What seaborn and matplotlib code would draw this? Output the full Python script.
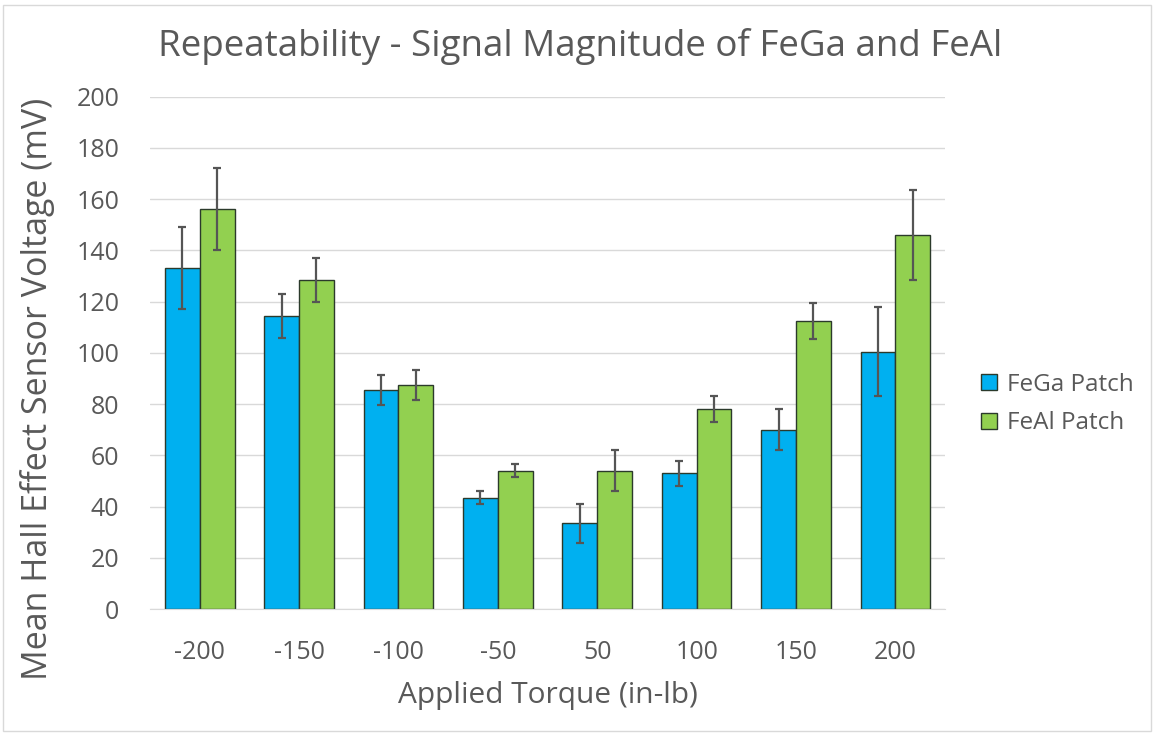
import pandas as pd
import seaborn as sns
import matplotlib.pyplot as plt
from matplotlib.ticker import MultipleLocator

torque = ["-200", "-150", "-100", "-50", "50", "100", "150", "200"]
fega_mean = [133, 114.5, 85.5, 43.5, 33.5, 53, 70, 100.5]
fega_err = [16, 8.5, 6, 2.5, 7.5, 5, 8, 17.5]
feal_mean = [156, 128.5, 87.5, 54, 54, 78, 112.5, 146]
feal_err = [16, 8.5, 6, 2.5, 8, 5, 7, 17.5]

series = ["FeGa Patch", "FeAl Patch"]
colors = ["#00B0F0", "#92D050"]

df = pd.DataFrame({
    "Torque": torque * 2,
    "Voltage": fega_mean + feal_mean,
    "Patch": [series[0]] * len(torque) + [series[1]] * len(torque),
})

sns.set_style("white")
plt.rcParams['font.family'] = ['Open Sans', 'DejaVu Sans']
text_color = "#595959"

fig = plt.figure(figsize=(11.54, 7.33), dpi=100)
ax = fig.add_axes([0.130, 0.169, 0.689, 0.699])

sns.barplot(data=df, x="Torque", y="Voltage", hue="Patch", order=torque,
            hue_order=series, palette=colors, width=0.7, ax=ax,
            edgecolor="#2b3a2b", linewidth=1.0, saturation=1)

# error bars drawn from bar centers
for patch_idx, (means, errs) in enumerate([(fega_mean, fega_err), (feal_mean, feal_err)]):
    bars = ax.containers[patch_idx]
    xs = [b.get_x() + b.get_width() / 2 for b in bars]
    ax.errorbar(xs, means, yerr=errs, fmt="none", ecolor="#555555",
                elinewidth=1.6, capsize=3, capthick=1.6, zorder=5)

ax.set_ylim(0, 200)
ax.set_xlim(-0.5, len(torque) - 0.5)
ax.yaxis.set_major_locator(MultipleLocator(20))
ax.grid(axis="y", color="#d9d9d9", linewidth=1)
ax.set_axisbelow(True)
for s in ["top", "right", "left"]:
    ax.spines[s].set_visible(False)
ax.spines["bottom"].set_color("#d9d9d9")
ax.tick_params(axis="both", length=0, labelsize=18, colors=text_color)
ax.tick_params(axis="x", pad=22)
ax.tick_params(axis="y", pad=22)

ax.set_xlabel("Applied Torque (in-lb)", fontsize=21.5, color=text_color, labelpad=12)
ax.set_ylabel("Mean Hall Effect Sensor Voltage (mV)", fontsize=24.5, color=text_color)
ax.yaxis.set_label_coords(-0.12, 0.43)
fig.suptitle("Repeatability - Signal Magnitude of FeGa and FeAl", fontsize=26.5,
             color=text_color, x=0.503, y=0.962)

ax.legend(loc="center left", bbox_to_anchor=(1.018, 0.40), frameon=False,
          fontsize=17.5, labelcolor=text_color, handlelength=0.65, handleheight=0.65,
          handletextpad=0.4, labelspacing=0.6)

fig.patches.append(plt.Rectangle((0.003, 0.003), 0.994, 0.99, transform=fig.transFigure,
                                 fill=False, edgecolor="#d9d9d9", linewidth=1))

plt.savefig("out.png", dpi=100)
plt.close()
